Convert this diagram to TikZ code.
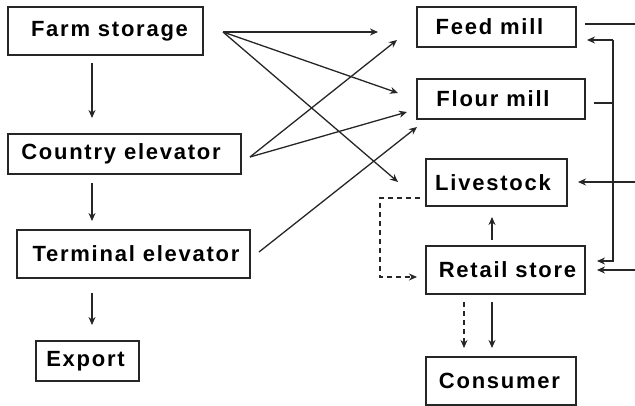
\documentclass[tikz,border=0pt]{standalone}
\usepackage{fontspec}
\newfontfamily\boxfont[LetterSpace=8]{Liberation Sans}
\usetikzlibrary{arrows.meta}
\begin{document}
\begin{tikzpicture}[x=1pt,y=-1pt,
  box/.style={draw=black!85, line width=1.4pt, inner sep=0pt, font=\boxfont\bfseries\fontsize{22}{24}\selectfont},
  conn/.style={draw=black!85, line width=1.3pt, -{Stealth[length=8pt,width=7pt]}},
  plain/.style={draw=black!85, line width=1.3pt},
  dconn/.style={conn, dash pattern=on 5pt off 4pt}]
\useasboundingbox (0,0) rectangle (635,406);
\clip (0,0) rectangle (635,406);
% boxes
\node[box, minimum width=195pt, minimum height=48pt] (fs) at (105.5,31) {\hspace*{8pt}Farm storage};
\node[box, minimum width=233pt, minimum height=40pt] (ce) at (124.5,154) {Country elevator\hspace*{7pt}};
\node[box, minimum width=233pt, minimum height=48pt] (te) at (133.5,254) {\hspace*{5pt}Terminal elevator};
\node[box, minimum width=103pt, minimum height=40pt] (ex) at (87.5,361) {Export\hspace*{4pt}};
\node[box, minimum width=159pt, minimum height=40pt] (fm) at (496.5,27) {Feed mill\hspace*{14pt}};
\node[box, minimum width=168pt, minimum height=40pt] (fl) at (501,99) {Flour mill\hspace*{16pt}};
\node[box, minimum width=141pt, minimum height=47pt] (ls) at (496.5,182.5) {Livestock\hspace*{7pt}};
\node[box, minimum width=159pt, minimum height=48pt] (rs) at (505.5,270) {\hspace*{4pt}Retail store};
\node[box, minimum width=150pt, minimum height=48pt] (co) at (501,381) {Consumer\hspace*{3pt}};
% connector ends
\coordinate (fsA) at (223,32);
\coordinate (ceA) at (250,157);
\coordinate (teA) at (259,252);
\coordinate (fmIn1) at (378,32);
\coordinate (fmIn2) at (397,40);
\coordinate (flIn1) at (398,93);
\coordinate (flIn2) at (407,112);
\coordinate (flIn3) at (417,127);
\coordinate (lsIn1) at (398,182);
\coordinate (fsB) at (92,63);
\coordinate (ceT) at (92,118);
\coordinate (ceB) at (92,183);
\coordinate (teT) at (92,221);
\coordinate (teB) at (92,293);
\coordinate (exT) at (92,325);
\coordinate (fmR) at (585,24);
\coordinate (edge1) at (640,24);
\coordinate (flR) at (594,103);
\coordinate (vx) at (613,103);
\coordinate (fmR2) at (587,40);
\coordinate (vTop) at (613,40);
\coordinate (vBot) at (613,261);
\coordinate (rsR1) at (597,261);
\coordinate (edge2) at (640,182);
\coordinate (lsR) at (578,182);
\coordinate (edge3) at (640,270);
\coordinate (rsR2) at (597,270);
\coordinate (rsT) at (492,240);
\coordinate (lsB) at (492,217);
\coordinate (rsB1) at (492,302);
\coordinate (coT1) at (492,348);
\coordinate (rsB2) at (464,302);
\coordinate (coT2) at (464,348);
\coordinate (lsL) at (420,198);
\coordinate (dc1) at (380,198);
\coordinate (dc2) at (380,277);
\coordinate (rsL) at (417,277);
% left column
\draw[conn] (fsB) -- (ceT);
\draw[conn] (ceB) -- (teT);
\draw[conn] (teB) -- (exT);
% crossing arrows
\draw[conn] (fsA) -- (fmIn1);
\draw[conn] (fsA) -- (flIn1);
\draw[conn] (fsA) -- (lsIn1);
\draw[conn] (ceA) -- (fmIn2);
\draw[conn] (ceA) -- (flIn2);
\draw[conn] (teA) -- (flIn3);
% right side
\draw[plain] (fmR) -- (edge1);
\draw[plain] (flR) -- (vx);
\draw[conn] (vTop) -- (fmR2);
\draw[conn] (vTop) -- (vBot) -- (rsR1);
\draw[conn] (edge2) -- (lsR);
\draw[conn] (edge3) -- (rsR2);
% retail / livestock / consumer
\draw[conn] (rsT) -- (lsB);
\draw[conn] (rsB1) -- (coT1);
\draw[dconn] (rsB2) -- (coT2);
\draw[dconn] (lsL) -- (dc1) -- (dc2) -- (rsL);
\end{tikzpicture}
\end{document}
